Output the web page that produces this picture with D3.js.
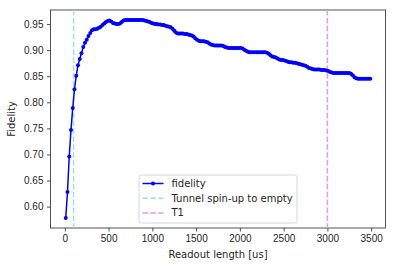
<!DOCTYPE html>
<html>
<head>
<meta charset="utf-8">
<script src="https://cdn.jsdelivr.net/npm/d3@7"></script>
<style>
  body { margin: 0; background: #fff; }
  svg { display: block; font-family: "DejaVu Sans", sans-serif; }
  .tick text { font-size: 10px; fill: #262626; }
</style>
</head>
<body>
<div id="chart"></div>
<script>
// Data
const readoutLength = [
    10, 30, 50, 70, 90, 110, 130, 150, 170, 190,
    210, 230, 250, 270, 290, 310, 330, 350, 370, 390,
    410, 430, 450, 470, 490, 510, 530, 550, 570, 590,
    610, 630, 650, 670, 690, 710, 730, 750, 770, 790,
    810, 830, 850, 870, 890, 910, 930, 950, 970, 990,
    1010, 1030, 1050, 1070, 1090, 1110, 1130, 1150, 1170, 1190,
    1210, 1230, 1250, 1270, 1290, 1310, 1330, 1350, 1370, 1390,
    1410, 1430, 1450, 1470, 1490, 1510, 1530, 1550, 1570, 1590,
    1610, 1630, 1650, 1670, 1690, 1710, 1730, 1750, 1770, 1790,
    1810, 1830, 1850, 1870, 1890, 1910, 1930, 1950, 1970, 1990,
    2010, 2030, 2050, 2070, 2090, 2110, 2130, 2150, 2170, 2190,
    2210, 2230, 2250, 2270, 2290, 2310, 2330, 2350, 2370, 2390,
    2410, 2430, 2450, 2470, 2490, 2510, 2530, 2550, 2570, 2590,
    2610, 2630, 2650, 2670, 2690, 2710, 2730, 2750, 2770, 2790,
    2810, 2830, 2850, 2870, 2890, 2910, 2930, 2950, 2970, 2990,
    3010, 3030, 3050, 3070, 3090, 3110, 3130, 3150, 3170, 3190,
    3210, 3230, 3250, 3270, 3290, 3310, 3330, 3350, 3370, 3390,
    3410, 3430, 3450, 3470, 3490
];
const fidelity = [
    0.578, 0.628, 0.696, 0.747, 0.789, 0.825, 0.851, 0.871, 0.883, 0.894,
    0.906, 0.914, 0.920, 0.927, 0.933, 0.938, 0.940, 0.940, 0.941, 0.943,
    0.945, 0.948, 0.951, 0.954, 0.956, 0.957, 0.955, 0.952, 0.951, 0.950,
    0.950, 0.951, 0.954, 0.957, 0.958, 0.958, 0.958, 0.958, 0.958, 0.958,
    0.958, 0.958, 0.958, 0.958, 0.958, 0.957, 0.956, 0.955, 0.954, 0.952,
    0.951, 0.950, 0.950, 0.949, 0.949, 0.948, 0.948, 0.947, 0.946, 0.945,
    0.944, 0.941, 0.937, 0.934, 0.932, 0.932, 0.932, 0.932, 0.931, 0.931,
    0.930, 0.929, 0.928, 0.926, 0.923, 0.920, 0.918, 0.917, 0.917, 0.917,
    0.916, 0.915, 0.913, 0.911, 0.910, 0.909, 0.909, 0.909, 0.909, 0.909,
    0.908, 0.906, 0.905, 0.904, 0.904, 0.904, 0.904, 0.904, 0.904, 0.904,
    0.904, 0.903, 0.901, 0.899, 0.897, 0.896, 0.896, 0.896, 0.896, 0.896,
    0.896, 0.896, 0.896, 0.896, 0.896, 0.895, 0.893, 0.890, 0.888, 0.887,
    0.886, 0.884, 0.882, 0.881, 0.881, 0.880, 0.879, 0.878, 0.877, 0.877,
    0.876, 0.876, 0.875, 0.874, 0.873, 0.872, 0.871, 0.870, 0.868, 0.866,
    0.865, 0.864, 0.863, 0.863, 0.863, 0.863, 0.862, 0.862, 0.862, 0.861,
    0.860, 0.858, 0.857, 0.856, 0.856, 0.856, 0.856, 0.856, 0.856, 0.856,
    0.856, 0.856, 0.856, 0.855, 0.852, 0.848, 0.846, 0.845, 0.845, 0.845,
    0.845, 0.845, 0.845, 0.845, 0.845
];
const tunnelTime = 100;
const t1Time = 3000;
const xTicks = [0, 500, 1000, 1500, 2000, 2500, 3000, 3500];
const yTicks = [0.60, 0.65, 0.70, 0.75, 0.80, 0.85, 0.90, 0.95];
const legendLabels = ["fidelity", "Tunnel spin-up to empty", "T1"];

// Layout
const W = 395, H = 266;
const margin = { top: 10, right: 9.5, bottom: 38, left: 50.5 };
const width = W - margin.left - margin.right;
const height = H - margin.top - margin.bottom;

const svg = d3.select("#chart")
    .append("svg")
    .attr("width", W)
    .attr("height", H);

const g = svg.append("g")
    .attr("transform", `translate(${margin.left}, ${margin.top})`);

const data = readoutLength.map((x, i) => ({ x, y: fidelity[i] }));

// matplotlib-like 5% padding on the data range
const [x0, x1] = d3.extent(readoutLength);
const [y0, y1] = d3.extent(fidelity);
const xPad = (x1 - x0) * 0.05, yPad = (y1 - y0) * 0.05;

const xScale = d3.scaleLinear()
    .domain([x0 - xPad, x1 + xPad])
    .range([0, width]);

const yScale = d3.scaleLinear()
    .domain([y0 - yPad, y1 + yPad])
    .range([height, 0]);

// Axes
const xAxis = g.append("g")
    .attr("transform", `translate(0, ${height})`)
    .call(d3.axisBottom(xScale).tickValues(xTicks).tickSize(3.5).tickPadding(3.5).tickFormat(d3.format("d")));

const yAxis = g.append("g")
    .call(d3.axisLeft(yScale).tickValues(yTicks).tickSize(3.5).tickPadding(3.5).tickFormat(d3.format(".2f")));

[xAxis, yAxis].forEach(a => {
    a.select(".domain").remove();
    a.selectAll(".tick line").attr("stroke", "#262626").attr("stroke-width", 0.8);
});

// Frame
g.append("rect")
    .attr("width", width)
    .attr("height", height)
    .attr("fill", "none")
    .attr("stroke", "#262626")
    .attr("stroke-width", 0.8);

// Axis labels
svg.append("text")
    .attr("text-anchor", "middle")
    .attr("x", margin.left + width / 2)
    .attr("y", H - 8)
    .style("font-size", "10px")
    .attr("fill", "#262626")
    .text("Readout length [us]");

svg.append("text")
    .attr("text-anchor", "middle")
    .attr("transform", `translate(15, ${margin.top + height / 2}) rotate(-90)`)
    .style("font-size", "10px")
    .attr("fill", "#262626")
    .text("Fidelity");

// Clip to the axes area
svg.append("defs").append("clipPath")
    .attr("id", "clip")
    .append("rect")
    .attr("width", width)
    .attr("height", height);

const plot = g.append("g").attr("clip-path", "url(#clip)");

// Vertical reference lines
const refLines = [
    { x: tunnelTime, color: "rgb(153,229,229)" },
    { x: t1Time, color: "rgb(229,153,229)" }
];
plot.selectAll(".ref")
    .data(refLines)
    .join("line")
    .attr("class", "ref")
    .attr("x1", d => xScale(d.x))
    .attr("x2", d => xScale(d.x))
    .attr("y1", 0)
    .attr("y2", height)
    .attr("stroke", d => d.color)
    .attr("stroke-width", 1.5)
    .attr("stroke-dasharray", "5.5,2.4");

// Fidelity line
const line = d3.line()
    .x(d => xScale(d.x))
    .y(d => yScale(d.y));

plot.append("path")
    .datum(data)
    .attr("d", line)
    .attr("fill", "none")
    .attr("stroke", "#0000ff")
    .attr("stroke-width", 1.5);

plot.selectAll(".pt")
    .data(data)
    .join("circle")
    .attr("class", "pt")
    .attr("cx", d => xScale(d.x))
    .attr("cy", d => yScale(d.y))
    .attr("r", 2)
    .attr("fill", "#0000ff");

// Legend (lower center)
const legW = 158, legH = 48;
const legend = g.append("g")
    .attr("transform", `translate(${width / 2 - legW / 2}, ${height - legH - 5})`);

legend.append("rect")
    .attr("width", legW)
    .attr("height", legH)
    .attr("rx", 2.5)
    .attr("fill", "#fff")
    .attr("fill-opacity", 0.8)
    .attr("stroke", "#cccccc")
    .attr("stroke-width", 0.8);

const legendStyles = [
    { color: "#0000ff", dash: null, marker: true },
    { color: "rgb(153,229,229)", dash: "5.5,2.4", marker: false },
    { color: "rgb(229,153,229)", dash: "5.5,2.4", marker: false }
];

legendLabels.forEach((label, i) => {
    const row = legend.append("g")
        .attr("transform", `translate(0, ${8.5 + i * 14.7})`);
    const s = legendStyles[i];
    row.append("line")
        .attr("x1", 3.5)
        .attr("x2", 24.5)
        .attr("stroke", s.color)
        .attr("stroke-width", 1.5)
        .attr("stroke-dasharray", s.dash);
    if (s.marker) {
        row.append("circle")
            .attr("cx", 14)
            .attr("r", 2)
            .attr("fill", s.color);
    }
    row.append("text")
        .attr("x", 32.5)
        .attr("dy", "0.35em")
        .style("font-size", "10px")
        .attr("fill", "#262626")
        .text(label);
});
</script>
</body>
</html>
